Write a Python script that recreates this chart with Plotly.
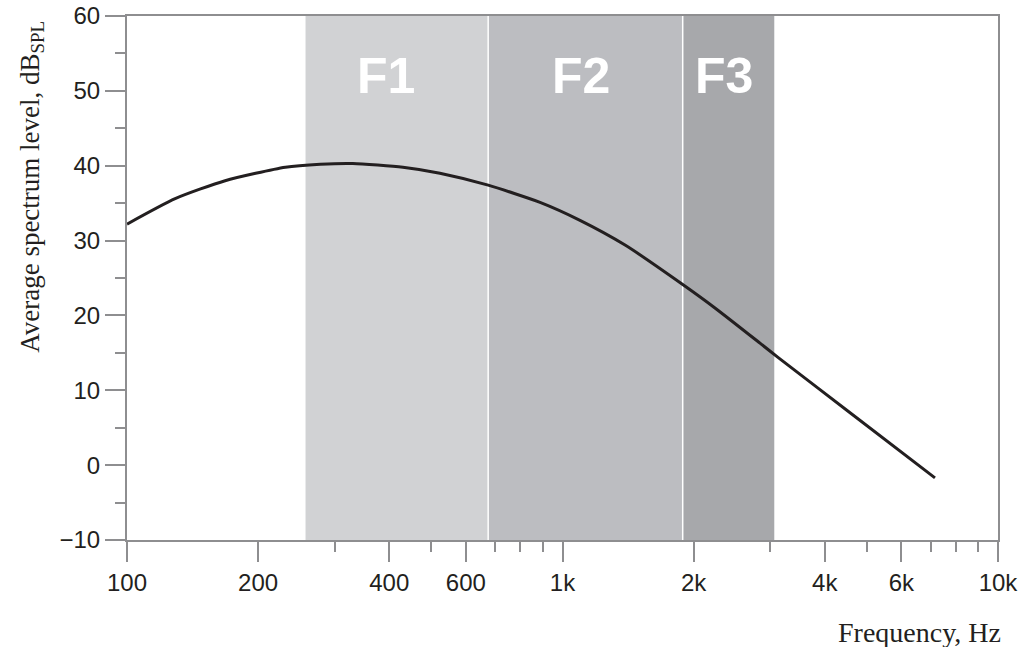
import plotly.graph_objects as go
import numpy as np

# Curve: average speech spectrum (frequency in Hz, level in dB SPL)
freq_hz = [100, 129, 168, 231, 278, 330, 430, 523, 675, 888, 1097, 1392, 1881, 2239, 2841, 3124, 4574, 7166]
level_db = [32.2, 35.6, 38.0, 39.8, 40.2, 40.3, 39.8, 39.0, 37.4, 35.1, 32.7, 29.4, 24.2, 21.0, 16.3, 14.4, 7.0, -1.7]

# Formant bands
band_names = ["F1", "F2", "F3"]
band_lo = [257, 675, 1888]
band_hi = [675, 1888, 3064]
band_colors = ["#d1d2d4", "#bcbdc1", "#a7a8ab"]
band_label_x = [393, 1100, 2350]
band_label_y = 52

x_tickvals = [100, 200, 400, 600, 1000, 2000, 4000, 6000, 10000]
x_ticktext = ["100", "200", "400", "600", "1k", "2k", "4k", "6k", "10k"]
x_minor = [300, 500, 700, 800, 900, 3000, 5000, 7000, 8000, 9000]
y_tickvals = [-10, 0, 10, 20, 30, 40, 50, 60]
y_ticktext = ["\u221210", "0", "10", "20", "30", "40", "50", "60"]

AX = "#8e8e90"
TXT = "#231f20"

fig = go.Figure()

shapes = []
for lo, hi, c in zip(band_lo, band_hi, band_colors):
    shapes.append(dict(type="rect", xref="x", yref="paper", x0=lo, x1=hi, y0=0, y1=1,
                       fillcolor=c, line=dict(width=0), layer="below"))
for b in band_hi[:-1]:
    shapes.append(dict(type="line", xref="x", yref="paper", x0=b, x1=b, y0=0, y1=1,
                       line=dict(color="white", width=1.5), layer="below"))

fig.add_trace(go.Scatter(x=freq_hz, y=level_db, mode="lines",
                         line=dict(color=TXT, width=3, shape="spline", smoothing=0.6),
                         showlegend=False, hoverinfo="skip"))

annotations = []
for name, lx in zip(band_names, band_label_x):
    annotations.append(dict(x=np.log10(lx), y=band_label_y, xref="x", yref="y", text="<b>%s</b>" % name,
                            showarrow=False, font=dict(family="Liberation Sans", size=50, color="white")))
annotations.append(dict(x=1.006, y=-0.176, xref="paper", yref="paper", text="Frequency, Hz", showarrow=False,
                        xanchor="right", yanchor="middle",
                        font=dict(family="Liberation Serif", size=28, color=TXT)))
annotations.append(dict(x=-0.110, y=0.995, xref="paper", yref="paper", text="Average spectrum level, dB<sub>SPL</sub>",
                        showarrow=False, textangle=-90, xanchor="center", yanchor="top",
                        font=dict(family="Liberation Serif", size=27, color=TXT)))

fig.update_layout(
    width=1027, height=647,
    margin=dict(l=127, r=29, t=16, b=107),
    paper_bgcolor="white", plot_bgcolor="white",
    shapes=shapes, annotations=annotations,
    xaxis=dict(type="log", range=[2, 4], tickmode="array", tickvals=x_tickvals, ticktext=x_ticktext,
               ticks="outside", ticklen=20, tickwidth=2, tickcolor=AX, automargin=False,
               showline=True, linecolor=AX, linewidth=2, mirror=True, showgrid=False, zeroline=False,
               tickfont=dict(family="Liberation Sans", size=24, color=TXT),
               minor=dict(tickmode="array", tickvals=x_minor, ticks="outside", ticklen=10, tickwidth=2,
                          tickcolor=AX, showgrid=False)),
    yaxis=dict(range=[-10, 60], tickmode="array", tickvals=y_tickvals, ticktext=y_ticktext,
               ticks="outside", ticklen=20, tickwidth=2, tickcolor=AX, automargin=False,
               showline=True, linecolor=AX, linewidth=2, mirror=True, showgrid=False, zeroline=False,
               tickfont=dict(family="Liberation Sans", size=24, color=TXT),
               minor=dict(dtick=5, tick0=0, ticks="outside", ticklen=10, tickwidth=2, tickcolor=AX, showgrid=False)),
)

fig.write_html("out.html", config={"displayModeBar": False},
               post_script="document.body.style.margin='0';document.body.style.overflow='hidden';")
